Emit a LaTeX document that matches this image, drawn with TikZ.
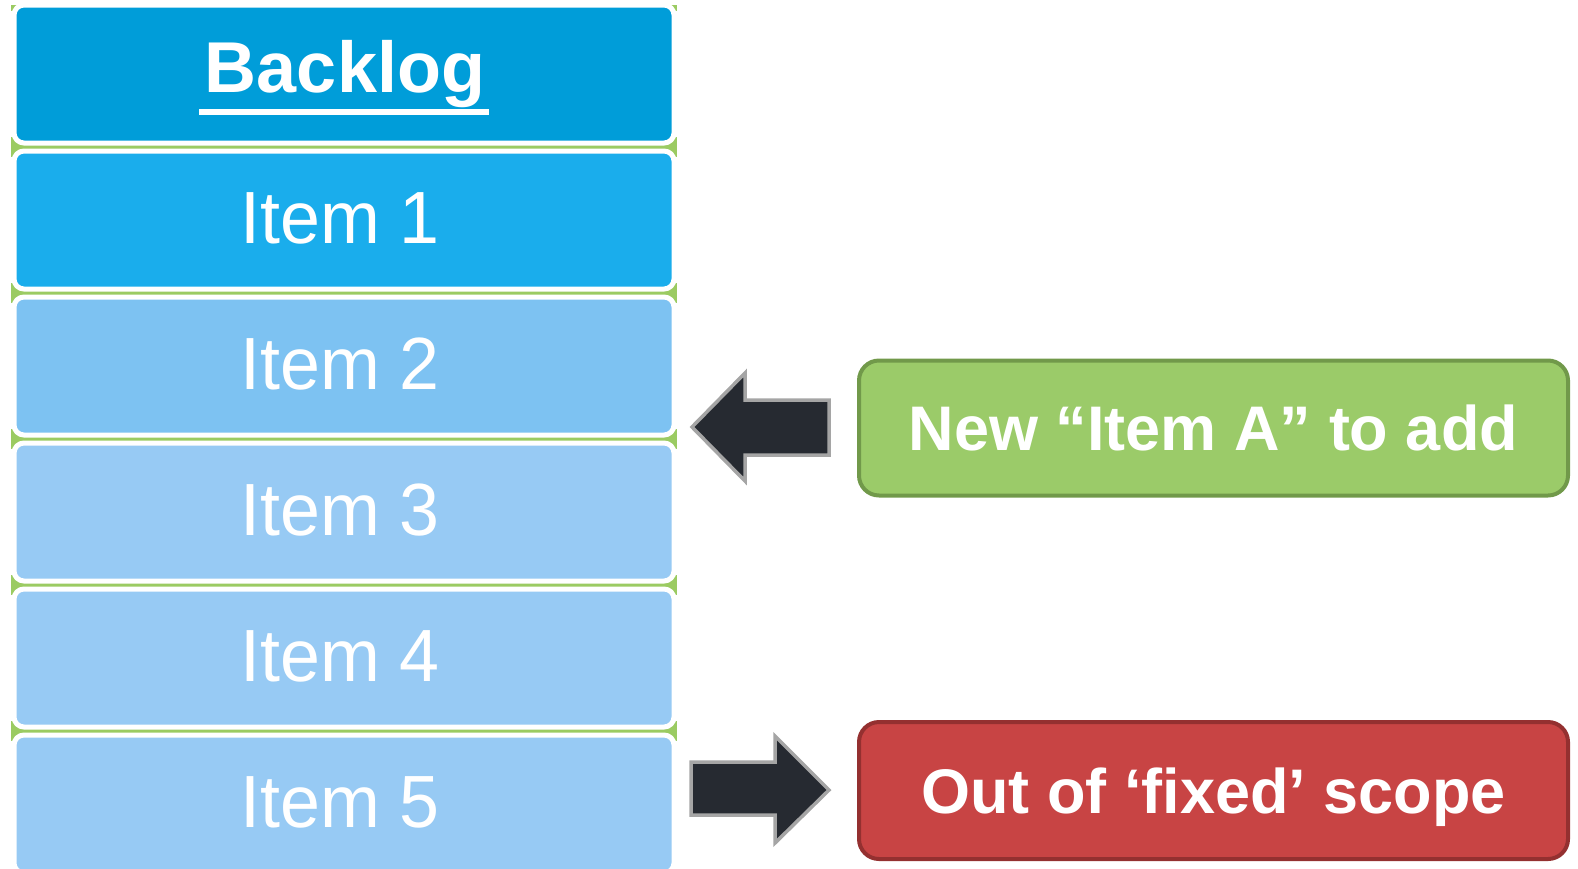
\documentclass[tikz,border=0pt]{standalone}
\usepackage{fontspec}
\setmainfont{Liberation Sans}
\newfontfamily\itemfont[FakeStretch=0.97]{Liberation Sans}
\definecolor{backlogblue}{HTML}{009DD9}
\definecolor{itemonec}{HTML}{1AADEC}
\definecolor{itemtwoc}{HTML}{7DC2F2}
\definecolor{itemrestc}{HTML}{97CAF4}
\definecolor{sepgreen}{HTML}{9BCB62}
\definecolor{addfill}{HTML}{9BCB69}
\definecolor{adddraw}{HTML}{71994A}
\definecolor{outfill}{HTML}{C84444}
\definecolor{outdraw}{HTML}{943030}
\definecolor{arrowfill}{HTML}{262A31}
\definecolor{arrowdraw}{HTML}{A5A5A5}
\newcommand\myul[1]{\setbox0\hbox{#1}\rlap{\hspace{-6pt}\rule[-23pt]{\dimexpr\wd0+10pt\relax}{6pt}}\box0}
\begin{document}
\begin{tikzpicture}[x=1pt,y=-1pt,
  rowbox/.style={draw=white, line width=5pt, rounded corners=10pt,
    minimum width=660pt, minimum height=138pt, inner sep=0pt, outer sep=0pt,
    text=white, font=\itemfont\fontsize{74}{76}\selectfont, text height=53pt, text depth=6pt},
  itemtext/.style={xshift=-4pt},
  sidebox/.style={line width=4pt, rounded corners=20pt,
    minimum width=709pt, inner sep=0pt, outer sep=0pt,
    text=white, font=\fontsize{63}{65}\selectfont\bfseries, text height=45.1pt, text depth=0pt},
  sep/.style={fill=sepgreen, draw=none},
  bigarrow/.style={fill=arrowfill, draw=arrowdraw, line width=3.5pt, line join=miter}
]
\useasboundingbox (0,0) rectangle (1578,868);
\clip (0,0) rectangle (1578,868);
% green separators
\fill[sep] (10.5,5) rectangle (677,11);
\foreach \k in {0,...,4}{
  \fill[sep] (10.5,136.5+146*\k) rectangle (677,156.5+146*\k);
}
% backlog column
\node[rowbox, fill=backlogblue] (backlog) at (344,74) {};
\node[anchor=base, text=white, font=\fontsize{72}{74}\selectfont\bfseries, inner sep=0pt] (title) at (345,92) {\myul{Backlog}};
\node[rowbox, fill=itemonec] (item1) at (344,220) {\hspace*{-8pt}Item 1};
\node[rowbox, fill=itemtwoc] (item2) at (344,366) {\hspace*{-8pt}Item 2};
\node[rowbox, fill=itemrestc] (item3) at (344,512) {\hspace*{-8pt}Item 3};
\node[rowbox, fill=itemrestc] (item4) at (344,658) {\hspace*{-8pt}Item 4};
\node[rowbox, fill=itemrestc] (item5) at (344,804) {\hspace*{-8pt}Item 5};
% side boxes
\node[sidebox, fill=addfill, draw=adddraw, minimum height=135pt] (add) at (1213.5,428) {New “Item A” to add};
\node[sidebox, fill=outfill, draw=outdraw, minimum height=137pt] (out) at (1213.5,790.5) {Out of ‘fixed’ scope};
% arrows
\coordinate (intip) at (692,427);
\draw[bigarrow] (intip) -- (745,373) -- (745,400) -- (829,400) -- (829,455) -- (745,455) -- (745,481) -- cycle;
\coordinate (outtip) at (829,790);
\draw[bigarrow] (outtip) -- (775,736) -- (775,762) -- (691,762) -- (691,815) -- (775,815) -- (775,843) -- cycle;
\end{tikzpicture}
\end{document}
